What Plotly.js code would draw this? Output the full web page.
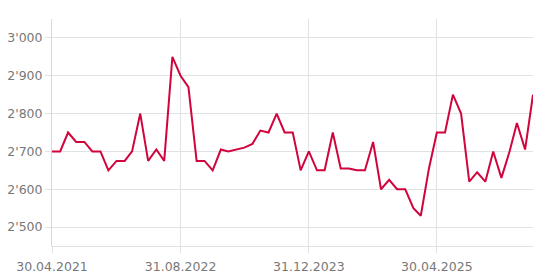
<!DOCTYPE html>
<html>
<head>
<meta charset="utf-8">
<script src="https://cdn.plot.ly/plotly-3.0.1.min.js"></script>
<style>html,body{margin:0;padding:0;background:#fff;}#chart{width:544px;height:274px;}</style>
</head>
<body>
<div id="chart"></div>
<script>
const dates = [
"2021-04-30","2021-05-31","2021-06-30","2021-07-31","2021-08-31","2021-09-30","2021-10-31","2021-11-30","2021-12-31",
"2022-01-31","2022-02-28","2022-03-31","2022-04-30","2022-05-31","2022-06-30","2022-07-31","2022-08-31","2022-09-30","2022-10-31","2022-11-30","2022-12-31",
"2023-01-31","2023-02-28","2023-03-31","2023-04-30","2023-05-31","2023-06-30","2023-07-31","2023-08-31","2023-09-30","2023-10-31","2023-11-30","2023-12-31",
"2024-01-31","2024-02-29","2024-03-31","2024-04-30","2024-05-31","2024-06-30","2024-07-31","2024-08-31","2024-09-30","2024-10-31","2024-11-30","2024-12-31",
"2025-01-31","2025-02-28","2025-03-31","2025-04-30","2025-05-31","2025-06-30","2025-07-31","2025-08-31","2025-09-30","2025-10-31","2025-11-30","2025-12-31",
"2026-01-31","2026-02-28","2026-03-31","2026-04-30"
];
const values = [
2700,2700,2750,2725,2725,2700,2700,2650,2675,
2675,2700,2800,2675,2705,2675,2950,2900,2870,2675,2675,2650,
2705,2700,2705,2710,2720,2755,2750,2800,2750,2750,2650,2700,
2650,2650,2750,2655,2655,2650,2650,2725,2600,2625,2600,2600,
2550,2530,2655,2750,2750,2850,2800,2620,2645,2620,2700,2630,
2700,2775,2705,2850
];
const xTickVals = ["2021-04-30","2022-08-31","2023-12-31","2025-04-30"];
const xTickText = ["30.04.2021","31.08.2022","31.12.2023","30.04.2025"];
const yTickVals = [2500,2600,2700,2800,2900,3000];

const trace = {
  x: dates, y: values, type: "scatter", mode: "lines",
  line: {color: "#d0053d", width: 2},
  hoverinfo: "skip"
};
const layout = {
  width: 544, height: 274,
  margin: {l: 52, r: 11, t: 19, b: 28},
  paper_bgcolor: "#fff", plot_bgcolor: "#fff",
  separators: ".'",
  showlegend: false,
  font: {family: "DejaVu Sans, sans-serif", size: 12.5, color: "#787878"},
  xaxis: {
    type: "date",
    range: ["2021-04-30", "2026-04-30"],
    tickvals: xTickVals, ticktext: xTickText,
    showgrid: true, gridcolor: "#dfe3e6", gridwidth: 1,
    showline: true, linecolor: "#dfe3e6", linewidth: 1,
    ticks: "outside", ticklen: 6, tickcolor: "#dfe3e6",
    ticklabelstandoff: 3,
    zeroline: false, fixedrange: true
  },
  yaxis: {
    range: [2450, 3050],
    tickvals: yTickVals, tickformat: ",d",
    showgrid: true, gridcolor: "#dfe3e6", gridwidth: 1,
    showline: true, linecolor: "#d6dade", linewidth: 1,
    ticks: "outside", ticklen: 6, tickcolor: "#dfe3e6",
    zeroline: false, fixedrange: true
  }
};
Plotly.newPlot("chart", [trace], layout, {displayModeBar: false, staticPlot: true});
</script>
</body>
</html>
